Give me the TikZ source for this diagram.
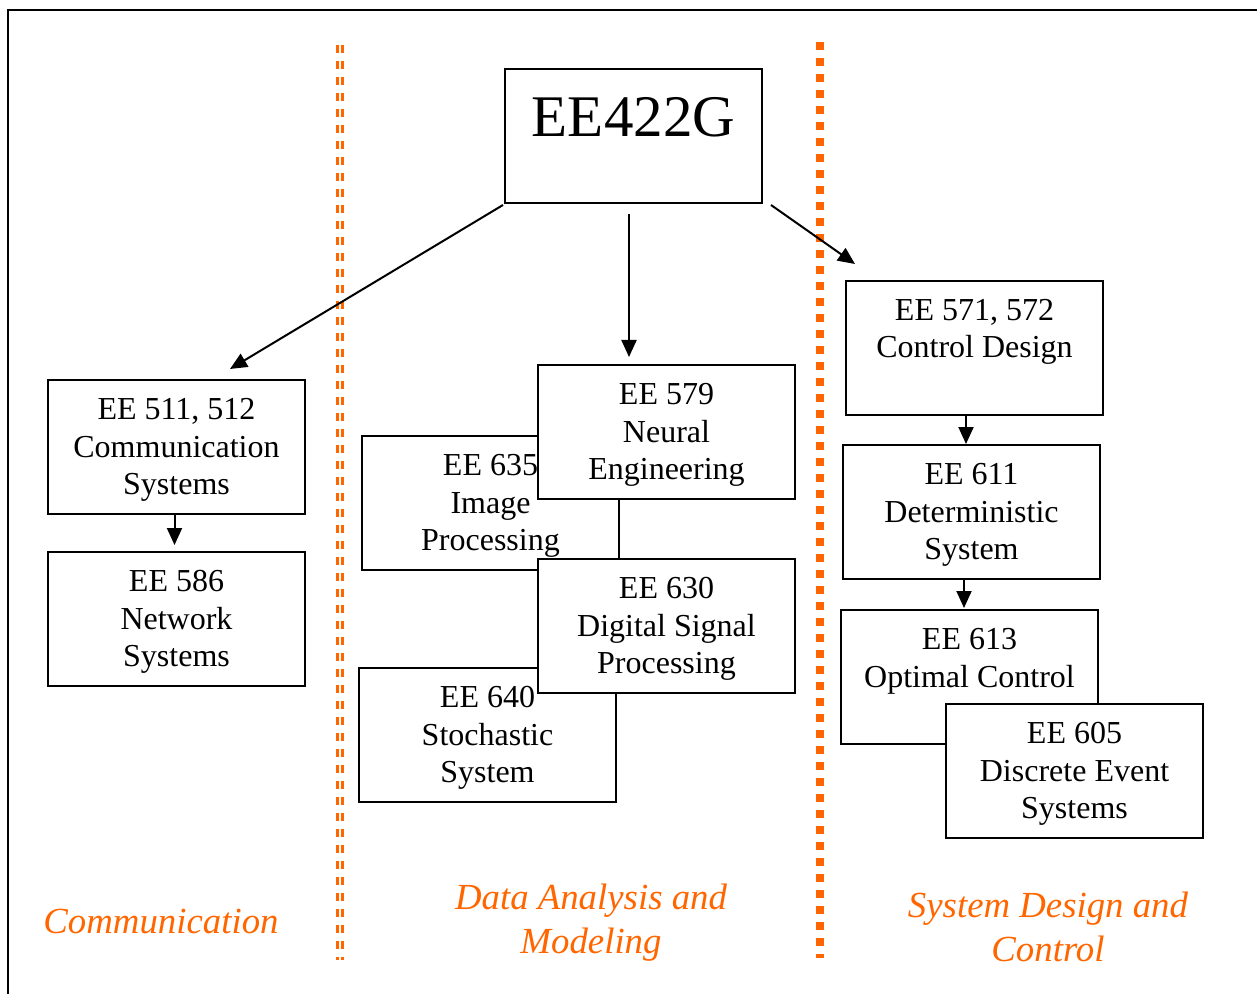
\documentclass[tikz,border=0pt]{standalone}
\usepackage{fontspec}
\setmainfont{Liberation Serif}
\usepackage{tikz}
\usetikzlibrary{arrows.meta,positioning,calc}
\usepackage{xcolor}
\definecolor{areaorange}{RGB}{255,102,0}
\newcommand{\crstext}[1]{\parbox[t][67pt][t]{128.5pt}{\centering\fontsize{16}{18.75}\selectfont\rule{0pt}{19.75pt}#1}}

\begin{document}
\begin{tikzpicture}[
          x=0.5pt, y=-0.5pt,
          course/.style={rectangle, draw=black, line width=1pt, fill=white, inner sep=0pt, outer sep=0pt, anchor=north west},
          link/.style={-{Triangle[length=8.5pt,width=7.5pt]}, line width=1pt, black},
          area/.style={font=\fontsize{18.4}{22}\selectfont\itshape, text=areaorange, align=center}
      ]
          \useasboundingbox (0,0) rectangle (1257,994);
          \draw[line width=1pt] (8,994) |- (1257,10);
          % dividers
          \foreach \xx in {337.5, 342.5} {
              \draw[areaorange, line width=1.5pt, dash pattern=on 4pt off 4pt] (\xx,45) -- (\xx,960);
          }
          \draw[areaorange, line width=4pt, dash pattern=on 4pt off 4pt] (820,42) -- (820,958);
          % courses
          \node[course] (top) at (505,69) {\parbox[t][67pt][t]{128.5pt}{\centering\fontsize{29.5}{34}\selectfont\rule{0pt}{33.75pt}EE422G}};
          \node[course] (c511) at (48,380) {\crstext{EE 511, 512\\Communication\\Systems}};
          \node[course] (c586) at (48,552) {\crstext{EE 586\\Network\\Systems}};
          \node[course] (c635) at (362,436) {\crstext{EE 635\\Image\\Processing}};
          \node[course] (c640) at (359,668) {\crstext{EE 640\\Stochastic\\System}};
          \node[course] (c579) at (538,365) {\crstext{EE 579\\Neural\\Engineering}};
          \node[course] (c630) at (538,559) {\crstext{EE 630\\Digital Signal\\Processing}};
          \node[course] (c571) at (846,281) {\crstext{EE 571, 572\\Control Design}};
          \node[course] (c611) at (843,445) {\crstext{EE 611\\Deterministic\\System}};
          \node[course] (c613) at (841,610) {\crstext{EE 613\\Optimal Control}};
          \node[course] (c605) at (946,704) {\crstext{EE 605\\Discrete Event\\Systems}};
          % arrows
          \draw[link] ($(top.south west)+(-2,2)$) -- ($(c511.north)+(53.5,-11)$);
          \draw[link] ($(top.south)+(-4.5,11)$) -- ($(c579.north)+(-37.5,-8)$);
          \draw[link] ($(top.south east)+(9,2)$) -- ($(c571.north west)+(9,-17)$);
          \draw[link] ($(c511.south)+(-2,0)$) -- ($(c586.north)+(-2,-7)$);
          \draw[link] ($(c571.south)+(-8.5,0)$) -- ($(c611.north)+(-5.5,-1)$);
          \draw[link] ($(c611.south)+(-7.5,0)$) -- ($(c613.north)+(-5.5,-2)$);
          % areas
          \node[area] (comm) at (161,922) {Communication};
          \node[area] (data) at (591,923) {Data Analysis and\\Modeling};
          \node[area] (ctrl) at (1048,927) {System Design and\\Control};
      \end{tikzpicture}
\end{document}
